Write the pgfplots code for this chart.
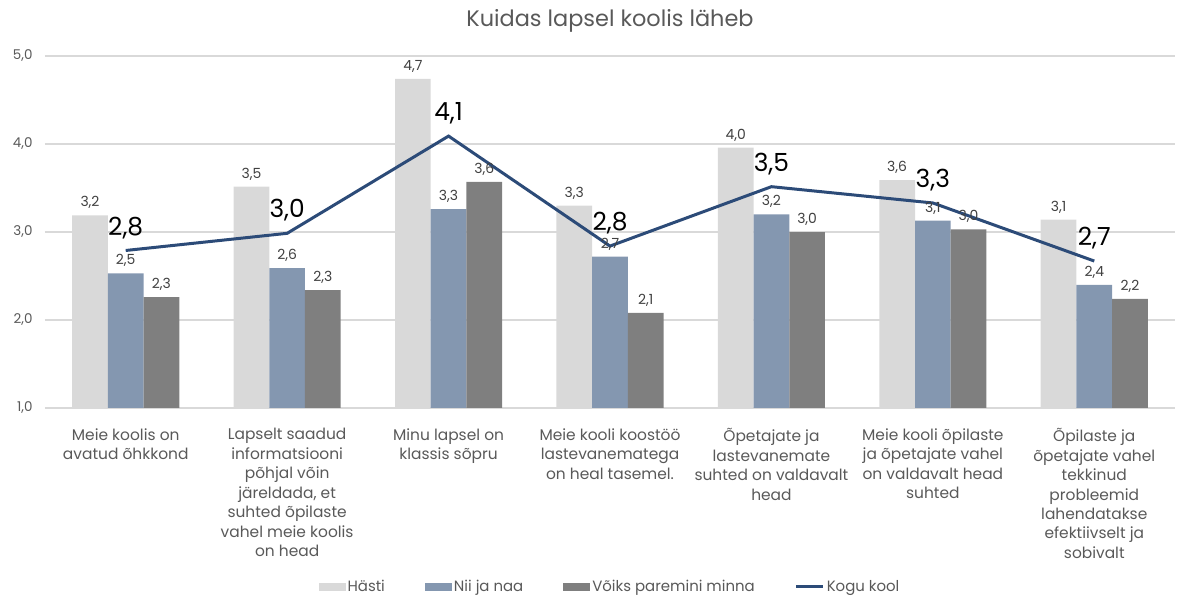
\documentclass[border=0pt]{standalone}
\usepackage{pgfplots}
\pgfplotsset{compat=1.18}
\usepackage{fontspec}
\setmainfont{Poppins}
\definecolor{cHasti}{HTML}{D9D9D9}
\definecolor{cNii}{HTML}{8497B0}
\definecolor{cVoiks}{HTML}{7F7F7F}
\definecolor{cLine}{HTML}{2C4B78}
\definecolor{cText}{HTML}{595959}
\definecolor{cLab}{HTML}{404040}
\definecolor{cGrid}{HTML}{D9D9D9}
\begin{document}
\begin{tikzpicture}
\useasboundingbox (0,0) rectangle (1187bp,600bp);
\begin{axis}[
  at={(45bp,192bp)}, anchor=south west,
  scale only axis, width=1130bp, height=352bp,
  xmin=-0.5, xmax=6.5, ymin=1, ymax=5,
  ytick={1,2,3,4,5},
  xtick={0,1,2,3,4,5,6},
  xticklabels={
    {Meie koolis on\\avatud õhkkond},
    {Lapselt saadud\\informatsiooni\\põhjal võin\\järeldada, et\\suhted õpilaste\\vahel meie koolis\\on head},
    {Minu lapsel on\\klassis sõpru},
    {Meie kooli koostöö\\lastevanematega\\on heal tasemel.},
    {Õpetajate ja\\lastevanemate\\suhted on valdavalt\\head},
    {Meie kooli õpilaste\\ja õpetajate vahel\\on valdavalt head\\suhted},
    {Õpilaste ja\\õpetajate vahel\\tekkinud\\probleemid\\lahendatakse\\efektiivselt ja\\sobivalt}},
  axis line style={draw=none},
  major tick length=0pt,
  ymajorgrids, grid style={cGrid, line width=1.3bp},
  /pgf/number format/assume math mode=true,
  y tick label style={font=\fontsize{13.5}{15}\selectfont, text=cText, xshift=-9bp,
    /pgf/number format/.cd, fixed, fixed zerofill, precision=1, use comma},
  x tick label style={font=\fontsize{15.5}{19.5}\selectfont, text=cText, align=center, anchor=north, yshift=-17bp},
  ybar=0pt, bar width=35.7bp,
  title={Kuidas lapsel koolis läheb},
  title style={at={(0.5,1)}, anchor=center, yshift=29bp, font=\fontsize{22.5}{26}\selectfont, text=cText},
  legend style={at={(0.5,-0.508)}, anchor=center, draw=none, legend columns=4,
    font=\fontsize{15}{17}\selectfont, text=cText,
    /tikz/every even column/.append style={column sep=38bp}},
  bars/.style={draw=none, nodes near coords,
    every node near coord/.append style={font=\fontsize{14}{16}\selectfont, text=cLab, yshift=3bp,
      /pgf/number format/.cd, fixed, fixed zerofill, precision=1, use comma, assume math mode=true},
    legend image code/.code={\fill[##1] (0bp,-4bp) rectangle (27bp,4bp);}},
]
\addplot[bars, fill=cHasti] coordinates {(0,3.19) (1,3.515) (2,4.74) (3,3.30) (4,3.96) (5,3.59) (6,3.14)};
\addlegendentry{Hästi}
\addplot[bars, fill=cNii] coordinates {(0,2.53) (1,2.59) (2,3.26) (3,2.72) (4,3.20) (5,3.13) (6,2.40)};
\addlegendentry{Nii ja naa}
\addplot[bars, fill=cVoiks] coordinates {(0,2.26) (1,2.34) (2,3.57) (3,2.08) (4,3.00) (5,3.03) (6,2.24)};
\addlegendentry{Võiks paremini minna}
\addplot[sharp plot, draw=cLine, line width=3bp, mark=none, nodes near coords,
  every node near coord/.append style={font=\fontsize{25}{29}\selectfont, text=black, anchor=south, yshift=7bp,
      /pgf/number format/.cd, fixed, fixed zerofill, precision=1, use comma, assume math mode=true},
  legend image code/.code={\draw[cLine, line width=3bp] (0bp,0bp) -- (27bp,0bp);}]
  coordinates {(0,2.79) (1,2.985) (2,4.09) (3,2.84) (4,3.515) (5,3.33) (6,2.67)};
\addlegendentry{Kogu kool}
\end{axis}
\end{tikzpicture}
\end{document}
